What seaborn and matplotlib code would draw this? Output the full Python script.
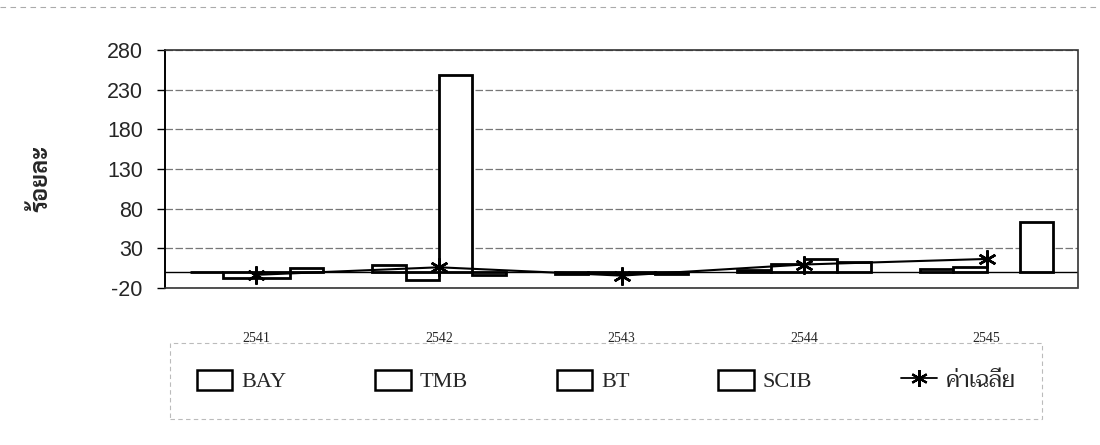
import numpy as np
import pandas as pd
import matplotlib
matplotlib.use("Agg")
import matplotlib.pyplot as plt
from matplotlib.patches import Patch
from matplotlib.lines import Line2D
import seaborn as sns

years = ["2541", "2542", "2543", "2544", "2545"]
banks = ["BAY", "TMB", "BT", "SCIB"]
bay = [0.5, 9.5, -2.0, 3.0, 4.0]
tmb = [-7.0, -10.5, -1.0, 10.0, 6.5]
bt = [-7.0, 248.0, -1.0, 16.0, np.nan]
scib = [5.5, -4.0, -3.0, 13.0, 63.0]
average = [-3.5, 6.0, -4.5, 9.5, 16.5]
avg_label = "ค่าเฉลี่ย"
y_label = "ร้อยละ"
y_ticks = [-20, 30, 80, 130, 180, 230, 280]

sns.set_theme(style="white")
plt.rcParams["font.family"] = ["Liberation Sans", "DejaVu Sans"]
plt.rcParams["axes.unicode_minus"] = False

rows = []
for b, vals in zip(banks, [bay, tmb, bt, scib]):
    for y, v in zip(years, vals):
        rows.append({"year": y, "bank": b, "value": v})
df = pd.DataFrame(rows)

fig = plt.figure(figsize=(11, 4.45), dpi=100)
ax = fig.add_axes([0.15, 0.353, 0.83, 0.535])

sns.barplot(data=df, x="year", y="value", hue="bank", order=years,
            hue_order=banks, palette=["white"] * 4, edgecolor="black",
            linewidth=2.0, width=0.73, ax=ax, legend=False, errorbar=None,
            saturation=1)

sns.lineplot(x=np.arange(len(years)), y=average, ax=ax, color="black",
             linewidth=1.5, marker=(6, 2, 0), markersize=13,
             markeredgewidth=1.8, markeredgecolor="black", zorder=5)

ax.set_ylim(-20, 280)
ax.set_yticks(y_ticks)
ax.set_xlim(-0.5, len(years) - 0.5)
ax.yaxis.grid(True, color="#777777", linestyle=(0, (6, 2)), linewidth=0.9)
ax.set_axisbelow(True)
ax.axhline(0, color="black", linewidth=1.0, zorder=1)

for side in ["top", "right", "bottom"]:
    ax.spines[side].set_color("#333333")
    ax.spines[side].set_linestyle((0, (1, 1)))
    ax.spines[side].set_linewidth(1.2)
ax.spines["left"].set_color("black")
ax.spines["left"].set_linewidth(1.4)

ax.tick_params(axis="y", which="both", left=True, length=6, width=1,
               color="black", labelsize=15.5, pad=10)
ax.tick_params(axis="x", bottom=False, pad=26)
for lab in ax.get_xticklabels():
    lab.set_fontfamily(["Liberation Serif", "DejaVu Serif"])
    lab.set_fontsize(10)
ax.set_xlabel("")
ax.set_ylabel("")

fig.text(0.037, 0.60, y_label, rotation=90, ha="center", va="center",
         fontsize=17, fontweight="bold",
         family=["Sarabun", "Noto Sans Thai", "Anuphan", "DejaVu Sans"])

handles = [Patch(facecolor="white", edgecolor="black", linewidth=1.8)
           for _ in banks]
handles.append(Line2D([0], [0], color="black", linewidth=1.3,
                      marker=(6, 2, 0), markersize=12, markeredgewidth=1.6))
leg = fig.legend(handles, banks + [avg_label], loc="center",
                 bbox_to_anchor=(0.551, 0.144), ncol=5, frameon=True,
                 fancybox=False, handlelength=1.6, handleheight=1.0,
                 handletextpad=0.4, columnspacing=4.0, borderpad=1.2,
                 prop={"family": ["Liberation Serif", "Taviraj", "Sarabun",
                                  "Noto Serif Thai", "Anuphan", "DejaVu Sans"],
                       "size": 16})
frame = leg.get_frame()
frame.set_edgecolor("#aaaaaa")
frame.set_linestyle((0, (4, 3)))
frame.set_linewidth(0.8)

fig.add_artist(Line2D([0.0, 1.0], [0.984, 0.984], color="#aaaaaa",
                      linewidth=0.8, linestyle=(0, (5, 4))))

fig.savefig("out.png", dpi=100)
